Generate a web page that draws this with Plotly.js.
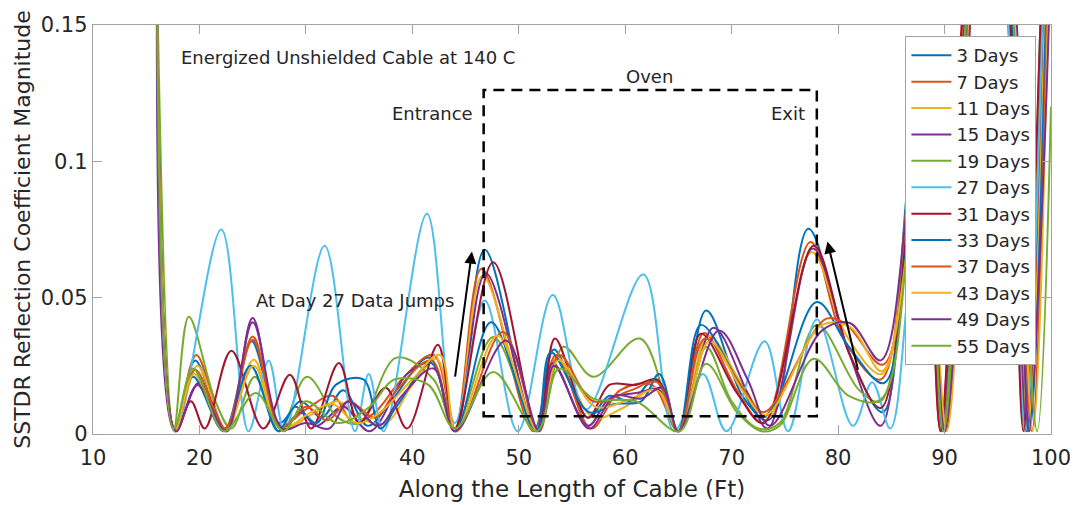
<!DOCTYPE html>
<html>
<head>
<meta charset="utf-8">
<script src="https://cdn.plot.ly/plotly-3.0.1.min.js"></script>
<style>
  html, body { margin: 0; padding: 0; background: #ffffff; }
  #chart { width: 1074px; height: 505px; }
</style>
</head>
<body>
<div id="chart"></div>
<script>
// SSTDR reflection coefficient magnitude along the cable, one trace per ageing day
const seriesNames = ["3 Days", "7 Days", "11 Days", "15 Days", "19 Days", "27 Days",
                     "31 Days", "33 Days", "37 Days", "43 Days", "49 Days", "55 Days"];

const seriesColors = ["#0072BD", "#D95319", "#EDB120", "#7E2F8E", "#77AC30", "#4DBEEE",
                      "#A2142F", "#0072BD", "#D95319", "#EDB120", "#7E2F8E", "#77AC30"];

// Distance along the cable (ft) and magnitude for each day
const day3X  = [16.0, 17.7, 19.6, 22.4, 24.9, 27.5, 29.5, 31.5, 33.5, 35.8, 38.0, 41.6, 44.0, 46.8, 51.5, 53.3, 56.5, 58.5, 60.5, 62.8, 65.0, 67.6, 71.0, 73.3, 74.3, 77.2, 81.0, 84.2, 86.5, 88.0, 89.8, 91.8, 94.0, 96.0, 97.6, 99.2, 100];
const day3Y  = [0.17, 0.001, 0.027, 0.002, 0.034, 0.004, 0.012, 0.006, 0.016, 0.003, 0.012, 0.028, 0.002, 0.0676, 0.002, 0.031, 0.006, 0.014, 0.012, 0.020, 0.001, 0.0453, 0.014, 0.005, 0.010, 0.0753, 0.030, 0.008, 0.090, 0.130, 0.002, 0.15, 0.35, 0.15, 0.001, 0.15, 0.30];

const day7X  = [16.0, 17.7, 19.7, 22.5, 25.0, 27.6, 30.0, 32.5, 34.5, 36.5, 39.0, 42.0, 44.0, 46.5, 51.4, 53.5, 56.8, 59.5, 62.5, 65.0, 67.4, 70.5, 73.0, 77.4, 80.5, 84.0, 86.5, 88.0, 89.6, 91.7, 94.0, 96.1, 97.8, 99.3, 100];
const day7Y  = [0.17, 0.002, 0.029, 0.001, 0.0358, 0.003, 0.009, 0.014, 0.004, 0.008, 0.020, 0.029, 0.002, 0.0606, 0.001, 0.029, 0.002, 0.016, 0.018, 0.001, 0.037, 0.016, 0.004, 0.0704, 0.035, 0.020, 0.085, 0.120, 0.001, 0.15, 0.30, 0.15, 0.001, 0.15, 0.30];

const day11X = [16.0, 17.8, 19.8, 22.5, 25.1, 27.7, 30.5, 33.0, 35.0, 37.5, 40.0, 42.3, 44.1, 46.6, 51.6, 53.6, 57.0, 60.0, 63.0, 65.1, 67.8, 71.0, 73.5, 77.5, 80.8, 84.1, 86.5, 88.0, 90.0, 92.0, 94.0, 96.2, 97.9, 99.4, 100];
const day11Y = [0.17, 0.001, 0.025, 0.002, 0.0272, 0.002, 0.007, 0.012, 0.006, 0.004, 0.018, 0.0275, 0.001, 0.058, 0.002, 0.028, 0.006, 0.010, 0.017, 0.001, 0.036, 0.018, 0.006, 0.0667, 0.036, 0.022, 0.080, 0.120, 0.001, 0.15, 0.30, 0.15, 0.001, 0.15, 0.30];

const day15X = [16.0, 17.7, 20.0, 22.6, 25.0, 27.6, 29.5, 31.0, 33.5, 36.0, 39.5, 41.8, 44.0, 46.9, 51.7, 53.2, 56.5, 58.5, 61.0, 63.2, 65.0, 68.3, 71.5, 73.4, 77.6, 81.0, 84.0, 86.6, 88.0, 89.7, 91.9, 94.0, 96.3, 97.7, 99.2, 100];
const day15Y = [0.17, 0.001, 0.019, 0.001, 0.0425, 0.002, 0.008, 0.003, 0.010, 0.001, 0.022, 0.026, 0.001, 0.059, 0.001, 0.026, 0.003, 0.013, 0.015, 0.016, 0.001, 0.039, 0.015, 0.002, 0.068, 0.030, 0.003, 0.086, 0.120, 0.001, 0.15, 0.30, 0.15, 0.001, 0.15, 0.30];

const day19X = [16.0, 17.6, 19.0, 21.5, 23.0, 25.2, 27.5, 30.1, 33.0, 35.0, 38.5, 42.0, 44.0, 47.6, 51.8, 54.2, 57.0, 61.4, 65.0, 67.6, 70.0, 72.5, 74.5, 78.0, 82.0, 84.0, 86.5, 88.0, 89.8, 92.0, 94.0, 96.0, 97.5, 99.0, 100];
const day19Y = [0.17, 0.002, 0.043, 0.012, 0.002, 0.021, 0.001, 0.021, 0.006, 0.004, 0.028, 0.020, 0.002, 0.0356, 0.002, 0.032, 0.021, 0.035, 0.001, 0.0319, 0.012, 0.002, 0.004, 0.040, 0.016, 0.012, 0.080, 0.120, 0.001, 0.15, 0.30, 0.15, 0.001, 0.15, 0.30];

const day27X = [16.0, 17.7, 22.05, 24.6, 26.5, 28.0, 31.76, 34.6, 35.9, 37.3, 41.37, 44.0, 46.8, 49.9, 53.2, 56.3, 61.7, 64.6, 67.3, 69.5, 73.1, 75.3, 78.0, 81.4, 83.2, 84.9, 86.5, 88.0, 89.9, 92.0, 94.0, 96.0, 97.6, 99.2, 100];
const day27Y = [0.17, 0.001, 0.075, 0.001, 0.027, 0.001, 0.069, 0.001, 0.022, 0.001, 0.0808, 0.004, 0.049, 0.001, 0.051, 0.009, 0.0585, 0.001, 0.022, 0.001, 0.034, 0.001, 0.042, 0.003, 0.019, 0.002, 0.050, 0.120, 0.001, 0.15, 0.30, 0.15, 0.001, 0.15, 0.30];

const day31X = [16.0, 17.8, 19.2, 20.5, 23.0, 26.0, 28.5, 30.5, 33.1, 35.0, 37.5, 39.5, 42.4, 44.0, 47.6, 51.8, 53.4, 56.5, 58.5, 61.0, 63.0, 65.0, 67.1, 70.5, 73.0, 77.7, 81.0, 84.0, 86.6, 88.0, 89.6, 91.6, 94.0, 96.2, 97.4, 99.0, 100];
const day31Y = [0.17, 0.001, 0.012, 0.002, 0.0305, 0.002, 0.0217, 0.002, 0.026, 0.004, 0.017, 0.002, 0.0327, 0.002, 0.063, 0.001, 0.035, 0.006, 0.018, 0.018, 0.020, 0.001, 0.0368, 0.015, 0.004, 0.069, 0.030, 0.0095, 0.080, 0.120, 0.001, 0.15, 0.30, 0.15, 0.001, 0.15, 0.30];

const day33X = [16.0, 17.7, 19.4, 22.3, 24.8, 27.4, 29.0, 31.0, 32.8, 35.4, 37.0, 38.5, 41.8, 44.0, 47.4, 51.6, 53.0, 56.6, 59.0, 61.5, 63.2, 65.0, 67.1, 70.5, 72.8, 74.2, 78.0, 81.0, 84.3, 86.6, 88.0, 89.9, 92.1, 94.0, 96.4, 98.0, 99.5, 100];
const day33Y = [0.17, 0.001, 0.021, 0.001, 0.025, 0.001, 0.010, 0.004, 0.018, 0.020, 0.002, 0.010, 0.026, 0.001, 0.041, 0.001, 0.030, 0.008, 0.011, 0.012, 0.022, 0.001, 0.040, 0.020, 0.006, 0.012, 0.0484, 0.032, 0.0187, 0.075, 0.120, 0.001, 0.15, 0.30, 0.15, 0.001, 0.15, 0.30];

const day37X = [16.0, 17.7, 19.6, 22.4, 25.0, 27.7, 30.0, 32.0, 34.0, 36.5, 38.5, 41.8, 44.1, 48.5, 51.9, 53.8, 57.0, 60.5, 63.0, 65.0, 67.5, 71.0, 73.0, 78.9, 80.8, 84.2, 86.6, 88.0, 90.1, 92.2, 94.0, 96.5, 98.2, 99.6, 100];
const day37Y = [0.17, 0.002, 0.0236, 0.002, 0.0346, 0.002, 0.010, 0.005, 0.012, 0.006, 0.016, 0.027, 0.001, 0.0374, 0.001, 0.029, 0.012, 0.016, 0.019, 0.001, 0.035, 0.017, 0.008, 0.0423, 0.040, 0.0254, 0.070, 0.110, 0.001, 0.15, 0.30, 0.15, 0.001, 0.15, 0.30];

const day43X = [16.0, 17.7, 19.5, 22.4, 25.1, 27.6, 30.5, 32.5, 34.8, 37.0, 40.0, 42.6, 44.1, 48.0, 51.8, 53.7, 57.2, 60.0, 63.0, 65.1, 67.9, 71.0, 73.2, 78.5, 81.2, 84.1, 86.6, 88.0, 90.2, 92.3, 94.0, 96.6, 98.3, 99.7, 100];
const day43Y = [0.17, 0.001, 0.022, 0.001, 0.025, 0.002, 0.008, 0.011, 0.004, 0.008, 0.020, 0.029, 0.001, 0.036, 0.001, 0.027, 0.010, 0.012, 0.016, 0.001, 0.034, 0.016, 0.007, 0.040, 0.039, 0.023, 0.070, 0.110, 0.001, 0.15, 0.30, 0.15, 0.001, 0.15, 0.28];

const day49X = [16.0, 17.8, 19.8, 22.5, 25.0, 27.8, 30.0, 32.2, 34.0, 36.8, 39.0, 42.0, 44.0, 48.8, 51.9, 53.3, 56.6, 59.0, 61.5, 63.5, 65.0, 68.8, 71.5, 73.6, 78.5, 81.1, 84.0, 86.6, 88.0, 90.0, 92.4, 94.0, 96.8, 97.9, 99.8, 100];
const day49Y = [0.17, 0.001, 0.018, 0.001, 0.041, 0.002, 0.004, 0.002, 0.012, 0.003, 0.014, 0.024, 0.001, 0.0343, 0.001, 0.025, 0.002, 0.014, 0.013, 0.017, 0.001, 0.038, 0.020, 0.003, 0.038, 0.0407, 0.027, 0.086, 0.120, 0.001, 0.15, 0.30, 0.15, 0.001, 0.15, 0.20];

const day55X = [16.0, 17.6, 19.4, 22.3, 25.3, 27.9, 30.0, 33.0, 36.0, 38.3, 41.5, 44.0, 47.6, 51.7, 53.8, 57.0, 61.0, 65.1, 67.6, 70.5, 72.8, 74.5, 77.7, 81.0, 84.0, 86.6, 88.0, 89.9, 92.0, 94.0, 96.5, 98.7, 100];
const day55Y = [0.17, 0.002, 0.024, 0.001, 0.015, 0.001, 0.012, 0.004, 0.010, 0.020, 0.018, 0.002, 0.0227, 0.001, 0.024, 0.013, 0.012, 0.001, 0.0258, 0.008, 0.001, 0.003, 0.0276, 0.014, 0.0126, 0.070, 0.110, 0.001, 0.15, 0.30, 0.15, 0.001, 0.12];

const seriesX = [day3X, day7X, day11X, day15X, day19X, day27X, day31X, day33X, day37X, day43X, day49X, day55X];
const seriesY = [day3Y, day7Y, day11Y, day15Y, day19Y, day27Y, day31Y, day33Y, day37Y, day43Y, day49Y, day55Y];

// Axis ticks
const xTicks = [10, 20, 30, 40, 50, 60, 70, 80, 90, 100];
const yTicks = [0, 0.05, 0.1, 0.15];
const yTickText = ["0", "0.05", "0.1", "0.15"];

// Oven region (entrance / exit) and arrows marking the jumps
const ovenBox = {x0: 46.7, x1: 78.0, y0: 0.0065, y1: 0.1262};
const entranceArrow = {fromX: 44.0, fromY: 0.0205, toX: 45.6, toY: 0.0669};
const exitArrow = {fromX: 81.9, fromY: 0.0230, toX: 79.0, toY: 0.0706};

const FONT = "DejaVu Sans, Liberation Sans, Arial, sans-serif";
const TEXT = "#262626";
const FRAME = "#a3a3a3";

const traces = seriesNames.map((name, i) => ({
  type: "scatter",
  mode: "lines",
  name: name,
  x: seriesX[i],
  y: seriesY[i],
  line: {color: seriesColors[i], width: 2, shape: "spline", smoothing: 1},
  cliponaxis: true
}));

const noteFont = {family: FONT, size: 18, color: TEXT};

const annotations = [
  {x: 18.1, y: 0.1382, xref: "x", yref: "y", xanchor: "left", yanchor: "middle",
   text: "Energized Unshielded Cable at 140 C", showarrow: false, font: noteFont},
  {x: 62.25, y: 0.1312, xref: "x", yref: "y", xanchor: "center", yanchor: "middle",
   text: "Oven", showarrow: false, font: noteFont},
  {x: 45.9, y: 0.1176, xref: "x", yref: "y", xanchor: "right", yanchor: "middle",
   text: "Entrance", showarrow: false, font: noteFont},
  {x: 77.1, y: 0.1176, xref: "x", yref: "y", xanchor: "right", yanchor: "middle",
   text: "Exit", showarrow: false, font: noteFont},
  {x: 25.1, y: 0.049, xref: "x", yref: "y", xanchor: "left", yanchor: "middle",
   text: "At Day 27 Data Jumps", showarrow: false, font: noteFont},
  {x: entranceArrow.toX, y: entranceArrow.toY, ax: entranceArrow.fromX, ay: entranceArrow.fromY,
   xref: "x", yref: "y", axref: "x", ayref: "y", text: "", showarrow: true,
   arrowhead: 2, arrowsize: 1.2, arrowwidth: 2, arrowcolor: "#000000"},
  {x: exitArrow.toX, y: exitArrow.toY, ax: exitArrow.fromX, ay: exitArrow.fromY,
   xref: "x", yref: "y", axref: "x", ayref: "y", text: "", showarrow: true,
   arrowhead: 2, arrowsize: 1.2, arrowwidth: 2, arrowcolor: "#000000"}
];

const layout = {
  width: 1074,
  height: 505,
  margin: {l: 93, r: 23, t: 25, b: 71},
  paper_bgcolor: "#ffffff",
  plot_bgcolor: "#ffffff",
  showlegend: true,
  legend: {
    x: 0.848, y: 0.973, xanchor: "left", yanchor: "top",
    bgcolor: "#ffffff", bordercolor: FRAME, borderwidth: 1,
    font: {family: FONT, size: 18, color: TEXT},
    itemwidth: 40, tracegroupgap: 0
  },
  xaxis: {
    range: [10, 100], tickvals: xTicks, ticks: "inside", ticklen: 9, tickwidth: 1,
    tickcolor: FRAME, showline: true, linecolor: FRAME, linewidth: 1.3, mirror: "ticks",
    showgrid: false, zeroline: false, ticklabelstandoff: 4,
    tickfont: {family: FONT, size: 21, color: TEXT},
    title: {text: "Along the Length of Cable (Ft)", standoff: 12,
            font: {family: FONT, size: 23, color: TEXT}}
  },
  yaxis: {
    range: [0, 0.15], tickvals: yTicks, ticktext: yTickText, ticks: "inside", ticklen: 9,
    tickwidth: 1, tickcolor: FRAME, showline: true, linecolor: FRAME, linewidth: 1.3,
    mirror: "ticks", showgrid: false, zeroline: false,
    tickfont: {family: FONT, size: 21, color: TEXT},
    title: {text: "SSTDR Reflection Coefficient Magnitude", standoff: 4,
            font: {family: FONT, size: 22, color: TEXT}}
  },
  shapes: [
    {type: "rect", xref: "x", yref: "y", x0: ovenBox.x0, x1: ovenBox.x1, y0: ovenBox.y0, y1: ovenBox.y1,
     line: {color: "#000000", width: 2.5, dash: "11px,7px"}, fillcolor: "rgba(0,0,0,0)", layer: "above"}
  ],
  annotations: annotations
};

Plotly.newPlot("chart", traces, layout, {displayModeBar: false, staticPlot: true});
</script>
</body>
</html>
